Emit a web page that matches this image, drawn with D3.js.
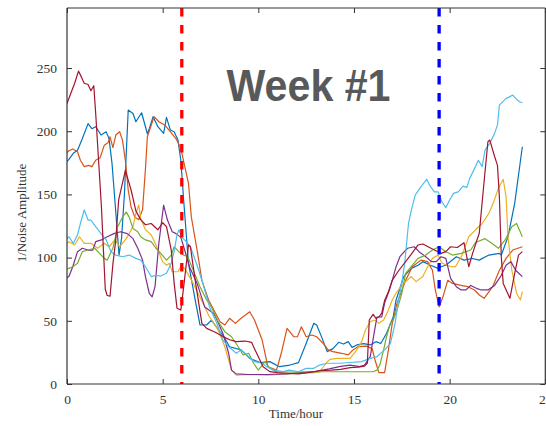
<!DOCTYPE html>
<html><head><meta charset="utf-8">
<script src="https://cdn.jsdelivr.net/npm/d3@7"></script>
<style>html,body{margin:0;padding:0;background:#fff;}svg{display:block;}</style>
</head><body>
<svg id="chart" width="546" height="426"></svg>
<script>
// ---- data: [hour, 1/noise amplitude] ----
const xTicks = [0, 5, 10, 15, 20, 25];
const yTicks = [0, 50, 100, 150, 200, 250];
const startHour = 6;
const endHour = 19.45;
const titleText = "Week #1";
const xLabel = "Time/hour";
const yLabel = "1/Noise Amplitude";

const seriesBlue = [[0,176],[0.1,177.8],[0.33,182.5],[0.55,185],[0.8,194],[1.1,206],[1.3,202],[1.5,203.6],[1.78,197],[2.05,199.5],[2.2,194],[2.35,175],[2.5,146],[2.72,102],[2.85,115],[3.0,150],[3.2,216.8],[3.45,214],[3.6,207.5],[3.9,214.6],[4.2,198],[4.3,202],[4.5,211.5],[4.75,203.6],[5.05,198.3],[5.2,211],[5.4,201],[5.6,199.6],[5.8,193],[5.95,177],[6.1,145],[6.35,95.5],[6.7,66.5],[6.95,46.7],[7.3,46.7],[7.55,50.6],[7.8,45.3],[8.2,37.4],[8.5,29.5],[9.1,27],[9.55,20.3],[10.1,17],[10.6,17.7],[11.1,13.7],[11.65,15],[12.1,16.9],[12.5,32],[12.9,48],[13.05,46.7],[13.3,37.5],[13.6,25.6],[13.9,28],[14.2,33],[14.45,31.6],[14.7,33.5],[14.9,29],[15.15,30.9],[15.5,32],[15.85,30.9],[16.15,33.5],[16.4,32],[16.7,40],[17.05,53],[17.2,66.5],[17.6,85],[18.0,91.5],[18.35,94],[18.6,96.8],[19.0,94],[19.4,91.5],[19.55,92.8],[19.8,94],[20.35,100.7],[20.75,98],[21.2,99.3],[21.55,98],[22.05,102],[22.6,103.4],[22.7,102],[23.05,116.5],[23.4,143],[23.8,187.7]];

const seriesOrange = [[0,183],[0.1,184.6],[0.3,186],[0.55,183.8],[0.7,177],[0.9,172],[1.13,173],[1.3,172],[1.5,177],[1.73,179],[1.95,189],[2.15,191],[2.25,195.6],[2.4,187],[2.55,197],[2.75,199.6],[2.9,193],[3.05,177],[3.2,153.5],[3.35,140],[3.55,132],[3.75,130],[3.95,138],[4.1,170],[4.2,195.6],[4.55,211.5],[4.8,207.5],[5.1,205],[5.4,199.6],[5.7,194],[5.95,186.5],[6.2,169],[6.35,158.8],[6.5,132],[6.8,106],[7.05,82],[7.4,66.5],[8.0,49.3],[8.25,46.7],[8.5,52],[8.8,48],[9.1,52],[9.55,57.2],[9.8,50.6],[10.2,34.8],[10.5,13.7],[10.95,11],[11.2,24.3],[11.5,44],[11.85,37.4],[12.05,37.5],[12.25,45.3],[12.5,37.4],[12.8,38.8],[13.05,37.4],[13.4,32],[13.65,27],[13.9,25.6],[14.35,24.3],[14.7,23],[14.95,27],[15.2,29.5],[15.65,30],[15.95,28],[16.1,19],[16.3,9],[16.6,9],[16.8,27],[17.0,48],[17.25,64],[17.5,74],[17.7,82],[18.05,92.8],[18.5,98],[18.85,96.8],[19.1,90],[19.25,74.4],[19.45,61],[19.65,69],[19.9,82],[20.15,79.6],[20.6,78],[20.95,77],[21.3,74.4],[21.55,70.4],[21.8,67.8],[22.25,77],[22.6,90],[22.95,99.4],[23.3,106],[23.8,108.6]];

const seriesYellow = [[0,111],[0.1,112.6],[0.4,110],[0.65,116.5],[0.9,111.3],[1.25,111.3],[1.6,107.4],[1.95,111.3],[2.2,108.6],[2.5,114],[2.75,108.6],[3.1,115],[3.45,124.5],[3.6,135],[3.75,141.6],[3.85,131],[4.1,122],[4.4,118],[4.65,110],[5.0,96.8],[5.2,94],[5.35,95.5],[5.5,88.8],[5.8,88.8],[5.95,93],[6.15,91.5],[6.6,79.6],[7.1,64],[7.45,53],[7.9,42.7],[8.25,29.5],[8.6,11],[8.85,7],[9.5,7.5],[10.5,7],[11.5,8],[12.3,8.5],[12.9,9],[13.2,9.7],[13.6,17.6],[13.75,19.5],[14.1,20.3],[14.8,20.3],[15.15,27],[15.4,33.5],[15.6,42.7],[15.85,49.3],[16.1,50.6],[16.3,48],[16.55,50.6],[16.8,58.5],[17.0,66.5],[17.2,72],[17.45,77],[17.7,81],[18.0,85],[18.25,81],[18.6,85],[18.85,92.8],[19.1,99.4],[19.4,102],[19.6,95.5],[20.1,92.8],[20.3,92.8],[20.65,102],[21.0,116.5],[21.35,122],[21.7,127],[22.05,135],[22.3,144],[22.55,155],[22.8,162],[22.95,148],[23.05,116.5],[23.25,90],[23.5,71.8],[23.7,66.5],[23.8,73]];

const seriesPurple = [[0,84],[0.1,85],[0.3,92.8],[0.55,104.7],[0.8,107.4],[1.1,106],[1.35,106],[1.5,112.6],[1.8,114],[2.1,116.5],[2.45,119],[2.8,120.5],[3.15,119],[3.45,115],[3.7,107.4],[3.95,98],[4.1,85],[4.3,71.8],[4.45,69],[4.6,77],[4.8,111.3],[5.05,141.6],[5.25,129.7],[5.5,120.5],[5.7,119],[5.95,116],[6.15,106],[6.4,92.8],[6.8,79.6],[7.2,61],[7.65,56],[7.8,52],[8.15,40],[8.45,24.3],[8.6,11],[8.85,8],[9.5,7.5],[10.5,7.5],[11.5,8],[12.2,9],[13,10],[13.7,12],[14.3,14],[14.8,15],[15.3,13.7],[15.55,15],[15.85,21.6],[16.05,40],[16.2,53],[16.45,53],[16.6,64],[16.85,74.4],[17.0,82],[17.2,92.8],[17.4,100.7],[17.55,103.4],[17.8,107.4],[18.15,108.6],[18.4,104.7],[18.75,100.7],[19.05,96.8],[19.3,96.8],[19.55,100.7],[19.8,99.4],[20.05,83.6],[20.35,77],[20.6,74.4],[20.85,74.4],[21.1,78],[21.4,75.7],[21.65,74.4],[22.0,74.4],[22.35,78],[22.7,86],[22.95,94],[23.2,96.8],[23.45,90],[23.8,85]];

const seriesGreen = [[0,91],[0.1,91.5],[0.3,92.8],[0.55,95.5],[0.8,104.7],[1.1,106],[1.45,107.4],[1.7,103.4],[1.95,99.4],[2.1,98],[2.4,107.4],[2.65,124.5],[2.9,132],[3.1,136],[3.25,132],[3.45,123],[3.7,120.5],[3.85,116.5],[4.1,114],[4.4,112.6],[4.65,107.4],[4.9,103.4],[5.2,98],[5.45,102],[5.6,108.6],[5.85,104.7],[6.1,102],[6.3,101],[6.6,90],[6.95,77],[7.3,66.5],[7.55,61],[7.9,49.3],[8.25,41.4],[8.6,37.4],[8.95,29.5],[9.2,23],[9.5,24.3],[9.75,16.4],[10.0,11],[10.35,17.7],[10.6,12.4],[10.95,9.8],[11.5,9.5],[12.5,9.5],[13.5,9.7],[14.5,9.7],[15.5,9.7],[16.0,9.7],[16.2,11],[16.35,15],[16.55,27],[16.7,37.4],[16.9,48],[17.05,50.6],[17.25,58.5],[17.5,71.8],[17.7,87.6],[18.05,94],[18.35,99.4],[18.75,102],[19.1,106],[19.45,108.6],[19.8,104.7],[20.15,102],[20.6,103.4],[21.1,106],[21.35,112],[21.85,115],[22.2,111.3],[22.55,107.4],[22.9,114],[23.25,124.5],[23.5,127],[23.8,116.5]];

const seriesLightBlue = [[0,115],[0.1,116.5],[0.33,111.3],[0.55,118],[0.7,127],[0.9,137.7],[1.1,129.7],[1.25,129.7],[1.5,124.5],[1.78,119],[2.05,114],[2.3,104.7],[2.55,102],[2.9,100.7],[3.25,102],[3.6,99.4],[3.85,98],[4.1,92.8],[4.4,85],[4.65,86],[4.9,85.4],[5.2,87.6],[5.45,95.5],[5.6,105],[5.75,118],[5.85,122],[6.0,116],[6.15,114],[6.45,108.6],[6.8,94],[7.1,79.6],[7.45,61],[7.8,49.3],[8.15,34.8],[8.45,29.5],[8.85,24.3],[9.1,27],[9.5,21.6],[9.8,17.7],[10.2,16.4],[10.45,13.7],[10.8,11],[11.3,9.8],[11.6,11],[12.1,9.7],[12.5,12.4],[12.9,12.4],[13.2,15],[13.6,16.4],[14.25,16.4],[14.8,17],[15.4,17.7],[15.85,20.3],[16.2,21.6],[16.6,27],[16.9,32],[17.15,48],[17.3,64],[17.5,80],[17.65,95.5],[17.85,127],[18.0,137.7],[18.2,149.5],[18.45,155],[18.8,162],[18.95,157.4],[19.2,152],[19.4,152],[19.6,144],[19.8,139.6],[20.0,145.6],[20.2,150.8],[20.45,152],[20.7,156.6],[20.9,155.6],[21.05,162.7],[21.35,172],[21.5,177],[21.7,172],[21.85,185],[22.1,190.4],[22.35,198.3],[22.5,205],[22.6,220.7],[22.95,226],[23.1,227],[23.3,228.6],[23.45,226],[23.65,223.3],[23.8,222.5]];

const seriesDarkRed = [[0,222],[0.2,230],[0.4,238],[0.6,247.6],[0.75,243],[0.9,238],[1.1,237],[1.25,232],[1.4,236],[1.5,214],[1.8,140],[2.0,75],[2.1,70],[2.25,69.6],[2.4,95],[2.55,114],[2.7,145.6],[3.05,169],[3.35,153.5],[3.6,137],[3.85,130],[4.1,126],[4.4,127],[4.75,122],[5.0,127.6],[5.2,124.5],[5.45,106],[5.6,80],[5.75,60],[5.95,58.5],[6.1,77],[6.35,110],[6.45,108.6],[6.7,82],[7.05,48],[7.3,44],[7.75,41],[8.15,37.5],[8.5,35],[8.85,33.5],[9.3,34],[9.65,33],[9.75,29.5],[10.25,13.7],[10.6,9.8],[11,9],[11.5,8.5],[12.1,8],[12.6,9],[13.2,10.5],[13.8,11],[14.3,11.6],[14.8,13],[15.2,13.4],[15.55,14.2],[15.7,16.6],[15.8,50.6],[15.9,53],[16.0,55],[16.15,52],[16.3,53],[16.45,56],[16.6,66],[16.8,73],[17.0,82],[17.35,90],[17.9,100.7],[18.35,110],[18.6,110.8],[19.0,107.6],[19.55,103.4],[19.8,104.7],[20.05,108.6],[20.4,108],[20.75,111.8],[21.0,92.8],[21.2,103.4],[21.55,119.5],[21.8,160],[22.0,191.7],[22.1,193],[22.35,180],[22.5,173],[22.6,148],[22.7,100.7],[22.8,79.6],[23.15,67.8],[23.4,87.6],[23.6,102],[23.8,104.7]];

const seriesList = [seriesBlue, seriesOrange, seriesYellow, seriesPurple, seriesGreen, seriesLightBlue, seriesDarkRed];
const seriesColors = ["#0072BD", "#D95319", "#EDB120", "#7E2F8E", "#77AC30", "#4DBEEE", "#A2142F"];

// ---- drawing ----
(function () {
const svg = d3.select("#chart");
const L = 67, R = 545.3, T = 8, B = 384;
const x = d3.scaleLinear().domain([0, 25]).range([L, R]);
const y = d3.scaleLinear().domain([0, 297.5]).range([B, T]);
const axisColor = "#333";
const tickFont = "'Liberation Serif', 'Times New Roman', serif";

svg.append("defs").append("clipPath").attr("id", "clip")
  .append("rect").attr("x", L).attr("y", T).attr("width", R - L).attr("height", B - T);

const line = d3.line().x(d => x(d[0])).y(d => y(d[1]));
const plot = svg.append("g").attr("clip-path", "url(#clip)");
seriesList.forEach((s, i) => {
  plot.append("path").datum(s).attr("d", line)
    .attr("fill", "none").attr("stroke", seriesColors[i])
    .attr("stroke-width", 1.2).attr("stroke-linejoin", "round");
});

// dashed markers
[[startHour, "#FF0000"], [endHour, "#0000FF"]].forEach(([h, c]) => {
  svg.append("line").attr("x1", x(h)).attr("x2", x(h)).attr("y1", y.range()[1]).attr("y2", y(0))
    .attr("stroke", c).attr("stroke-width", 3.3).attr("stroke-dasharray", "8.5,8.5");
});

// axes (box with inward ticks)
const axB = svg.append("g").attr("transform", `translate(0,${B})`)
  .call(d3.axisBottom(x).tickValues(xTicks).tickSize(-5).tickPadding(10).tickSizeOuter(0));
const axT = svg.append("g").attr("transform", `translate(0,${T})`)
  .call(d3.axisTop(x).tickValues(xTicks).tickSize(-5).tickFormat("").tickSizeOuter(0));
const axL = svg.append("g").attr("transform", `translate(${L},0)`)
  .call(d3.axisLeft(y).tickValues(yTicks).tickSize(-5).tickPadding(10).tickSizeOuter(0));
const axR = svg.append("g").attr("transform", `translate(${R},0)`)
  .call(d3.axisRight(y).tickValues(yTicks).tickSize(-5).tickFormat("").tickSizeOuter(0));
[axB, axT, axL, axR].forEach(g => {
  g.select(".domain").attr("stroke", axisColor).attr("stroke-width", 1.2);
  g.selectAll(".tick line").attr("stroke", axisColor).attr("stroke-width", 1);
  g.selectAll(".tick text").attr("fill", "#333").style("font-family", tickFont).style("font-size", "13.5px");
});
axB.select(".domain").attr("d", `M${L},0H${R}`);
axT.select(".domain").attr("d", `M${L},0H${R}`);
axL.select(".domain").attr("d", `M0,${T}V${B}`);
axR.select(".domain").attr("d", `M0,${T}V${B}`);
axL.selectAll(".tick text").attr("x", -10);

// labels
svg.append("text").attr("x", 296).attr("y", 418).attr("text-anchor", "middle")
  .attr("fill", "#333").style("font-family", tickFont).style("font-size", "13px").text(xLabel);
svg.append("text").attr("transform", "translate(26,213) rotate(-90)").attr("text-anchor", "middle")
  .attr("fill", "#333").style("font-family", tickFont).style("font-size", "13px").text(yLabel);

// title
svg.append("text").attr("x", 226.5).attr("y", 100.5)
  .attr("textLength", 164).attr("lengthAdjust", "spacingAndGlyphs")
  .attr("fill", "#58595B").style("font-family", "'Liberation Sans', Arial, sans-serif")
  .style("font-weight", "bold").style("font-size", "45px").text(titleText);
})();
</script>
</body></html>
